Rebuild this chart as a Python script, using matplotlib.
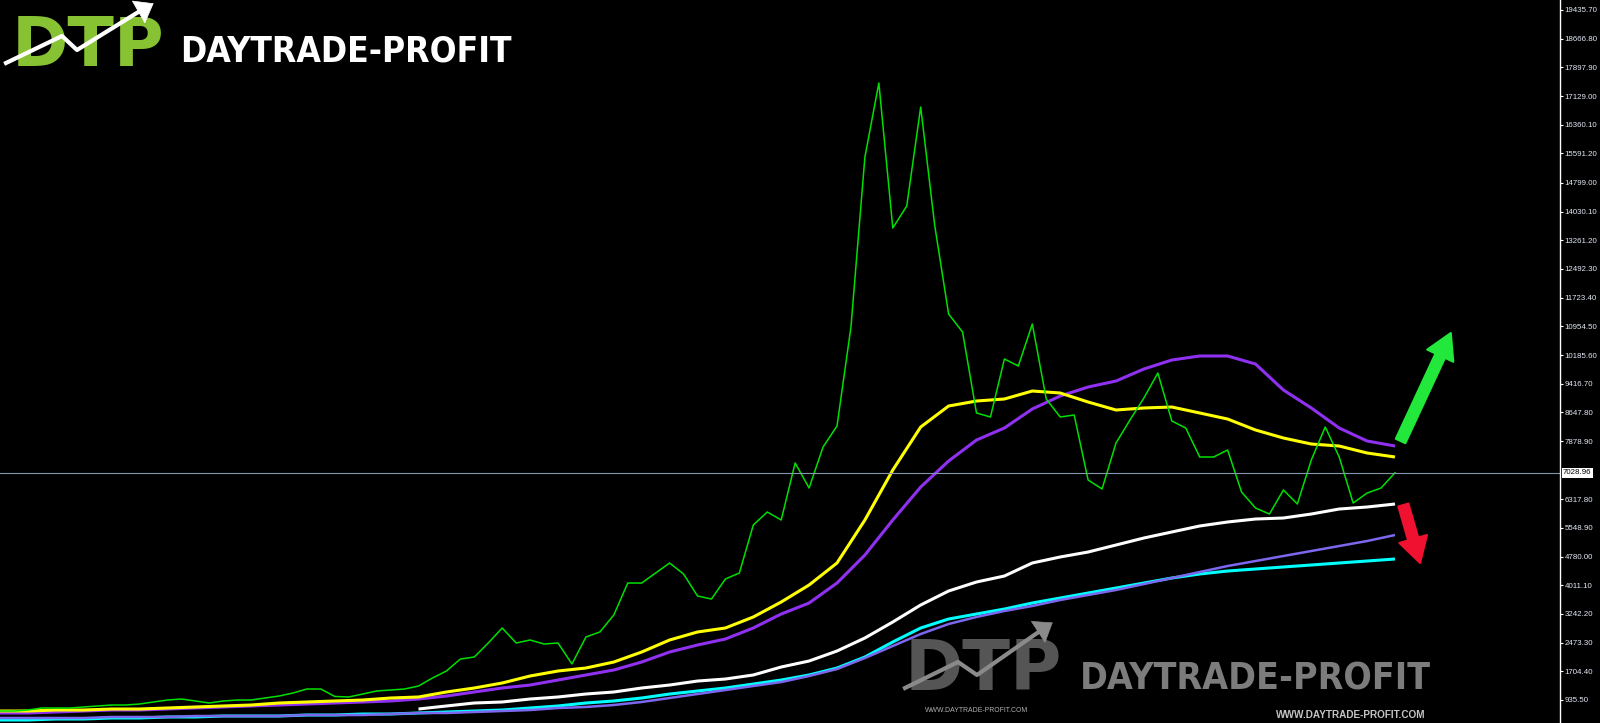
import os
import numpy as np
import matplotlib
matplotlib.use("Agg")
import matplotlib.pyplot as plt
from matplotlib import font_manager
from matplotlib.font_manager import FontProperties
from matplotlib.patches import FancyArrowPatch
from matplotlib.lines import Line2D

## Data (weekly bars 0..100)
price = [640, 640, 667, 721, 721, 721, 748, 775, 801, 801,
         828, 882, 935, 962, 909, 855, 909, 935, 935, 989,
         1042, 1123, 1230, 1230, 1030, 1016, 1096, 1177, 1203, 1230,
         1311, 1525, 1713, 2034, 2088, 2464, 2866, 2464, 2544, 2437,
         2464, 1901, 2625, 2759, 3215, 4072, 4072, 4341, 4609, 4314,
         3724, 3643, 4180, 4341, 5628, 5976, 5762, 7290, 6619, 7719,
         8282, 10936, 15494, 17478, 13591, 14181, 16835, 13671, 11285, 10802,
         8631, 8523, 10079, 9891, 11017, 9006, 8523, 8577, 6834, 6593,
         7826, 8443, 9033, 9703, 8416, 8228, 7451, 7451, 7638, 6512,
         6083, 5922, 6566, 6191, 7370, 8255, 7451, 6217, 6485, 6619,
         7029]

# moving averages, read every 2nd bar
ma_bars = list(range(0, 101, 2))
ma_yellow = [640, 640, 667, 667, 694, 694, 721, 748, 775, 801,
             855, 882, 909, 935, 989, 1016, 1150, 1257, 1391, 1579,
             1713, 1793, 1954, 2222, 2544, 2759, 2866, 3161, 3563, 4019,
             4609, 5762, 7102, 8255, 8818, 8952, 9006, 9220, 9167, 8925,
             8711, 8765, 8791, 8631, 8469, 8175, 7960, 7799, 7745, 7558,
             7451]
ma_purple = [587, 587, 614, 640, 667, 667, 694, 721, 748, 775,
             801, 828, 855, 882, 909, 962, 1042, 1150, 1257, 1337,
             1471, 1606, 1740, 1954, 2222, 2410, 2571, 2866, 3241, 3536,
             4072, 4823, 5762, 6646, 7343, 7906, 8228, 8738, 9086, 9327,
             9488, 9810, 10051, 10159, 10159, 9944, 9247, 8765, 8228, 7880,
             7745]
ma_slate = [453, 453, 453, 453, 480, 480, 480, 506, 506, 506,
            506, 533, 533, 533, 560, 587, 587, 614, 640, 667,
            721, 748, 801, 882, 989, 1096, 1203, 1311, 1417, 1579,
            1766, 2061, 2383, 2705, 2973, 3161, 3322, 3456, 3617, 3751,
            3885, 4045, 4206, 4367, 4528, 4662, 4796, 4930, 5064, 5198,
            5359]
ma_cyan = [399, 399, 426, 426, 453, 453, 480, 480, 506, 506,
           506, 533, 533, 560, 560, 587, 614, 640, 667, 721,
           775, 855, 909, 989, 1096, 1177, 1257, 1364, 1471, 1606,
           1793, 2088, 2491, 2866, 3107, 3241, 3375, 3536, 3670, 3804,
           3938, 4072, 4206, 4314, 4394, 4448, 4502, 4555, 4609, 4662,
           4716]
white_bars = list(range(30, 101, 2))
ma_white = [694, 775, 855, 882, 962, 1016, 1096, 1150, 1257, 1337,
            1444, 1498, 1606, 1820, 1981, 2249, 2598, 3027, 3483, 3858,
            4099, 4260, 4609, 4770, 4903, 5091, 5279, 5440, 5601, 5708,
            5788, 5815, 5922, 6056, 6110, 6190]

last_price = 7028.96
tick_labels = ["19435.70", "18666.80", "17897.90", "17129.00", "16360.10", "15591.20",
               "14799.00", "14030.10", "13261.20", "12492.30", "11723.40", "10954.50",
               "10185.60", "9416.70", "8647.80", "7878.90", "6317.80", "5548.90",
               "4780.00", "4011.10", "3242.20", "2473.30", "1704.40", "935.50"]

brand = "DAYTRADE-PROFIT"
url = "WWW.DAYTRADE-PROFIT.COM"

W, H = 1600, 723
bar_px = 13.95          # pixels per bar
axis_px = 1560          # position of price scale line


def fx(px):
    return px / W


def fy(py):
    return 1 - py / H


names = {f.name for f in font_manager.fontManager.ttflist}
tick_font = "Liberation Sans" if "Liberation Sans" in names else "DejaVu Sans"

# a condensed bold face for the logo text, if one is installed
files = {os.path.basename(f.fname): f.fname for f in font_manager.fontManager.ttflist}
brand_prop = FontProperties(family="DejaVu Sans", weight="bold")
for cand in ["LiberationSansNarrow-Bold.ttf", "NotoSans-ExtraCondensedBold.ttf",
             "NotoSans-CondensedBold.ttf", "DejaVuSansCondensed-Bold.ttf", "Roboto-Bold.ttf"]:
    if cand in files:
        brand_prop = FontProperties(fname=files[cand])
        break

fig = plt.figure(figsize=(W / 100, H / 100), dpi=100, facecolor="black")
ax = fig.add_axes([0, 0, axis_px / W, 1])
ax.set_facecolor("black")

# y scale: 19435.70 at px 10, 935.50 at px 700
per_px = (19435.7 - 935.5) / 690
ax.set_ylim(935.5 - (H - 700) * per_px, 19435.7 + 10 * per_px)
ax.set_xlim(0, axis_px / bar_px)

x = np.arange(len(price))
ax.plot(ma_bars, ma_cyan, color="#00ffff", lw=2.2, solid_capstyle="butt")
ax.plot(ma_bars, ma_slate, color="#7b68ee", lw=1.8, solid_capstyle="butt")
ax.plot(white_bars, ma_white, color="white", lw=2.2, solid_capstyle="butt")
ax.plot(ma_bars, ma_purple, color="#9030f0", lw=2.2, solid_capstyle="butt")
ax.plot(ma_bars, ma_yellow, color="#ffff00", lw=2.2, solid_capstyle="butt")
ax.plot(x, price, color="#00e000", lw=1.1)

ax.axhline(last_price, color="#8696aa", lw=0.8)

# price scale on the right
for s in ["left", "top", "bottom"]:
    ax.spines[s].set_visible(False)
ax.spines["right"].set_color("white")
ax.spines["right"].set_linewidth(1.0)
ax.set_xticks([])
ax.yaxis.tick_right()
ax.set_yticks([float(t) for t in tick_labels])
ax.set_yticklabels(tick_labels)
ax.tick_params(axis="y", colors="white", length=2.5, width=0.8, pad=1,
               labelsize=5.7, labelcolor="#e2e8f4")
for lab in ax.get_yticklabels():
    lab.set_fontfamily(tick_font)

ax.text(1.002, last_price, f"{last_price:.2f}", transform=ax.get_yaxis_transform(),
        ha="left", va="center", fontsize=5.7, family=tick_font, color="black",
        bbox=dict(boxstyle="square,pad=0.2", fc="white", ec="none"), clip_on=False)

# arrows
up = FancyArrowPatch((100.4, 7880), (104.0, 10775),
                     arrowstyle="simple,head_length=1.0,head_width=1.15,tail_width=0.42",
                     mutation_scale=18, color="#22e83c", lw=1.5, joinstyle="round",
                     capstyle="round", shrinkA=0, shrinkB=0)
ax.add_patch(up)
down = FancyArrowPatch((100.6, 6164), (101.8, 4609),
                       arrowstyle="simple,head_length=1.0,head_width=1.15,tail_width=0.42",
                       mutation_scale=18, color="#f01030", lw=1.5, joinstyle="round",
                       capstyle="round", shrinkA=0, shrinkB=0)
ax.add_patch(down)

# logos
renderer = fig.canvas.get_renderer()


def fitted_text(px, py, s, width, **kw):
    t = fig.text(fx(px), fy(py), s, va="baseline", ha="left", fontsize=20, **kw)
    w = t.get_window_extent(renderer).width
    t.set_fontsize(20 * width / w)
    return t


fitted_text(12, 66, "DTP", 152, color="#86c232", fontweight="bold", family="DejaVu Sans")
fitted_text(180, 62, brand, 332, color="white", fontproperties=brand_prop)
fig.add_artist(Line2D([fx(6), fx(62), fx(77), fx(140)], [fy(63), fy(36), fy(50), fy(11)],
                      transform=fig.transFigure, color="white", lw=3, zorder=5))
fig.add_artist(FancyArrowPatch((fx(135), fy(14)), (fx(156), fy(2)), transform=fig.transFigure,
                               arrowstyle="-|>,head_length=0.6,head_width=0.45",
                               mutation_scale=20, color="white", lw=0.5, zorder=5))

fitted_text(905, 690, "DTP", 157, color="#555555", fontweight="bold", family="DejaVu Sans")
fitted_text(1080, 690, brand, 350, color="#7c7c7c", fontproperties=brand_prop)
fig.add_artist(Line2D([fx(905), fx(958), fx(977), fx(1040)], [fy(688), fy(662), fy(675), fy(631)],
                      transform=fig.transFigure, color="#8a8a8a", lw=3, zorder=5))
fig.add_artist(FancyArrowPatch((fx(1035), fy(634)), (fx(1055), fy(621)), transform=fig.transFigure,
                               arrowstyle="-|>,head_length=0.6,head_width=0.45",
                               mutation_scale=20, color="#8a8a8a", lw=0.5, zorder=5))
fitted_text(925, 712, url, 102, color="#b0b0b0", family=tick_font)
fitted_text(1276, 718, url, 150, color="#c4c4c4", fontweight="bold", family=tick_font)

fig.savefig("out.png", dpi=100, facecolor="black")
